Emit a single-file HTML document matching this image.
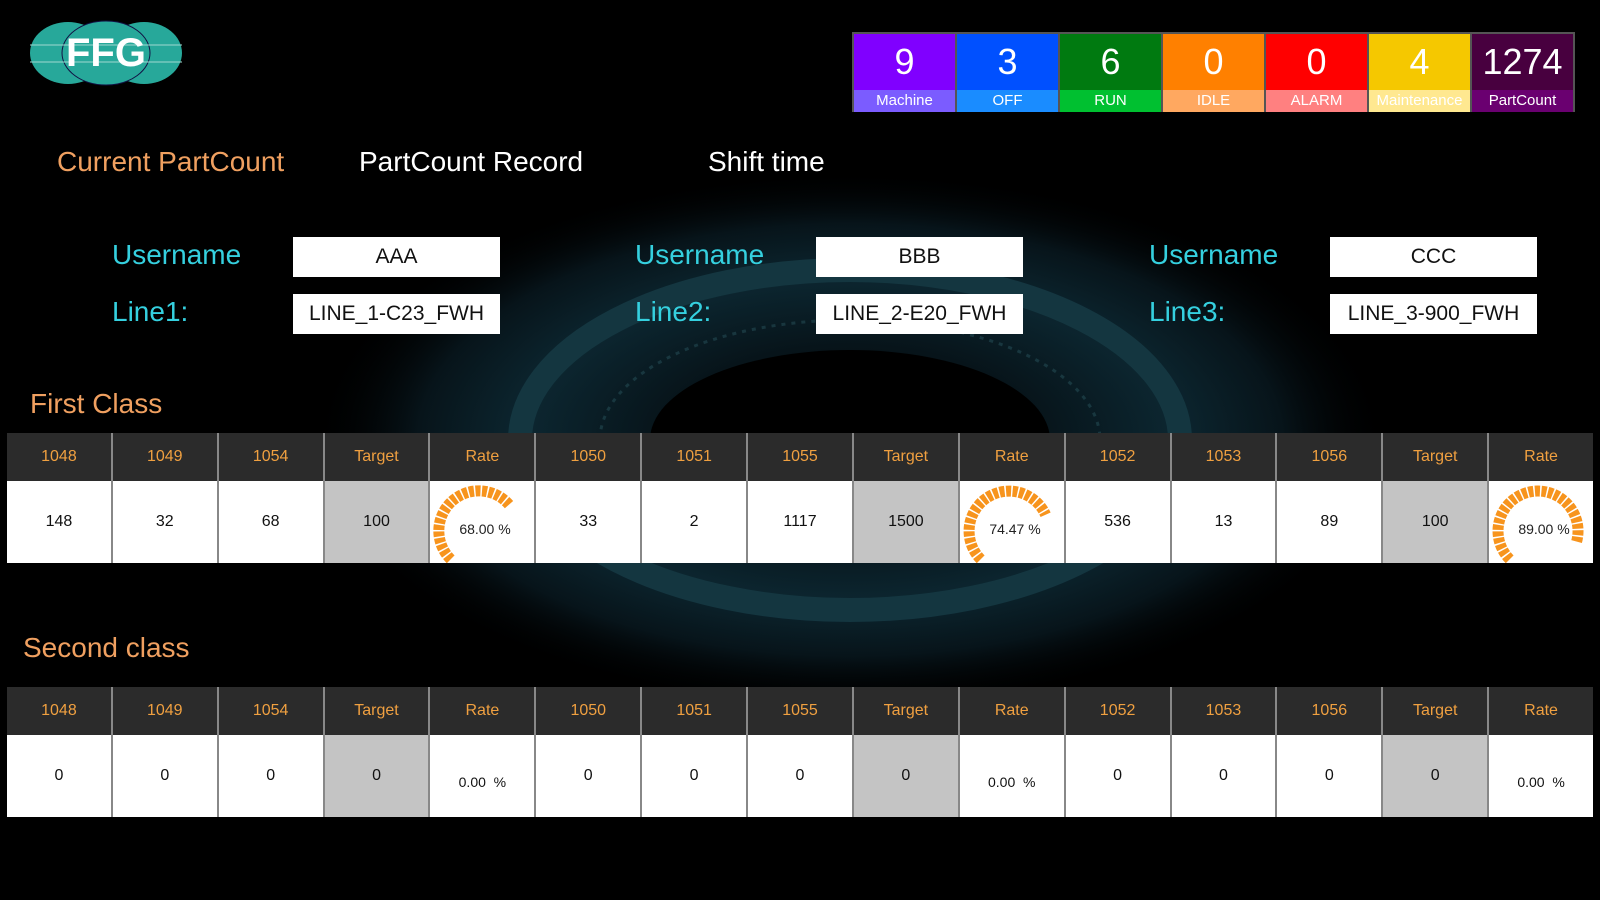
<!DOCTYPE html>
<html><head><meta charset="utf-8"><style>
*{margin:0;padding:0;box-sizing:border-box}
body{width:1600px;height:900px;background:#000;position:relative;overflow:hidden;font-family:"Liberation Sans",sans-serif}
.a{position:absolute}
.tab{font-size:28px;top:146px;white-space:nowrap}
.lbl{color:#35d0df;font-size:28px;white-space:nowrap}
.box{background:#fff;width:207px;height:40px;text-align:center;line-height:40px;font-size:21px;color:#111}
.tiles{left:852px;top:32px;width:723px;height:80px;display:flex;border:2px solid #555;background:#555;gap:2px}
.tile{flex:1;display:flex;flex-direction:column;color:#fff;text-align:center}
.tile .n{height:56px;line-height:56px;font-size:36px}
.tile .l{flex:1;line-height:22px;font-size:15px}
.sec{color:#f0a060;font-size:28px;white-space:nowrap}
.tbl{left:7px;width:1586px;display:grid;grid-template-columns:repeat(15,1fr);gap:0 2px;background:#888}
.h{background:#2b2b2b;color:#f0a040;font-size:16px;text-align:center;height:48px;line-height:48px}
.c{background:#fff;color:#111;font-size:16px;text-align:center;height:82px;line-height:82px;position:relative;overflow:hidden}
.g{background:#c4c4c4}
.r{font-size:14px;line-height:94px}
</style></head><body>
<svg class="a" style="left:0;top:150px" width="1600" height="560">
<defs><radialGradient id="bg" cx="50%" cy="50%" r="50%"><stop offset="0" stop-color="#000"/><stop offset=".35" stop-color="#07141a"/><stop offset=".6" stop-color="#0c2630"/><stop offset=".8" stop-color="#07141a"/><stop offset="1" stop-color="#000" stop-opacity="0"/></radialGradient></defs>
<ellipse cx="850" cy="290" rx="540" ry="270" fill="url(#bg)"/>
<ellipse cx="850" cy="290" rx="330" ry="170" fill="none" stroke="#143640" stroke-width="24"/>
<ellipse cx="850" cy="290" rx="250" ry="120" fill="none" stroke="#23495299" stroke-width="3" stroke-dasharray="4 6"/>
<ellipse cx="850" cy="290" rx="200" ry="90" fill="#000"/>
</svg>
<svg class="a" style="left:28px;top:20px" width="156" height="66">
<ellipse cx="40" cy="33" rx="38" ry="31" fill="#27a89a"/><ellipse cx="116" cy="33" rx="38" ry="31" fill="#27a89a"/><ellipse cx="78" cy="33" rx="44" ry="32" fill="#27a89a" stroke="#114" stroke-width="1"/>
<g stroke="#9fd8d0" stroke-width="1"><line x1="2" y1="25" x2="154" y2="25"/><line x1="2" y1="42" x2="154" y2="42"/></g>
<text x="78" y="46" text-anchor="middle" font-family="Liberation Sans" font-weight="bold" font-size="40" fill="#fff">FFG</text>
</svg>
<div class="a tiles">
<div class="tile"><div class="n" style="background:#8000ff">9</div><div class="l" style="background:#7b5cff">Machine</div></div>
<div class="tile"><div class="n" style="background:#0050ff">3</div><div class="l" style="background:#1a8cff">OFF</div></div>
<div class="tile"><div class="n" style="background:#007a10">6</div><div class="l" style="background:#00c030">RUN</div></div>
<div class="tile"><div class="n" style="background:#ff8000">0</div><div class="l" style="background:#ffa860">IDLE</div></div>
<div class="tile"><div class="n" style="background:#ff0000">0</div><div class="l" style="background:#ff8080">ALARM</div></div>
<div class="tile"><div class="n" style="background:#f5c800">4</div><div class="l" style="background:#ffe890">Maintenance</div></div>
<div class="tile"><div class="n" style="background:#48003f">1274</div><div class="l" style="background:#6a0070">PartCount</div></div>
</div>
<div class="a tab" style="left:57px;color:#f0a060">Current PartCount</div>
<div class="a tab" style="left:359px;color:#fff">PartCount Record</div>
<div class="a tab" style="left:708px;color:#fff">Shift time</div>

<div class="a lbl" style="left:112px;top:239px">Username</div><div class="a box" style="left:293px;top:237px">AAA</div>
<div class="a lbl" style="left:112px;top:296px">Line1:</div><div class="a box" style="left:293px;top:294px">LINE_1-C23_FWH</div>
<div class="a lbl" style="left:635px;top:239px">Username</div><div class="a box" style="left:816px;top:237px">BBB</div>
<div class="a lbl" style="left:635px;top:296px">Line2:</div><div class="a box" style="left:816px;top:294px">LINE_2-E20_FWH</div>
<div class="a lbl" style="left:1149px;top:239px">Username</div><div class="a box" style="left:1330px;top:237px">CCC</div>
<div class="a lbl" style="left:1149px;top:296px">Line3:</div><div class="a box" style="left:1330px;top:294px">LINE_3-900_FWH</div>

<div class="a sec" style="left:30px;top:388px">First Class</div>
<div class="a tbl" style="top:433px">
<div class="h">1048</div><div class="h">1049</div><div class="h">1054</div><div class="h">Target</div><div class="h">Rate</div>
<div class="h">1050</div><div class="h">1051</div><div class="h">1055</div><div class="h">Target</div><div class="h">Rate</div>
<div class="h">1052</div><div class="h">1053</div><div class="h">1056</div><div class="h">Target</div><div class="h">Rate</div>
<div class="c">148</div><div class="c">32</div><div class="c">68</div><div class="c g">100</div>
<div class="c"><svg class="a" style="left:0;top:0" width="106" height="82"><path d="M20.7 78.3 A40 40 0 1 1 79 23.6" fill="none" stroke="#f7941d" stroke-width="11" stroke-dasharray="5 1.5"/><text x="55" y="53" text-anchor="middle" font-size="14" fill="#222" font-family="Liberation Sans">68.00 %</text></svg></div>
<div class="c">33</div><div class="c">2</div><div class="c">1117</div><div class="c g">1500</div>
<div class="c"><svg class="a" style="left:0;top:0" width="106" height="82"><path d="M20.7 78.3 A40 40 0 1 1 85.6 33.8" fill="none" stroke="#f7941d" stroke-width="11" stroke-dasharray="5 1.5"/><text x="55" y="53" text-anchor="middle" font-size="14" fill="#222" font-family="Liberation Sans">74.47 %</text></svg></div>
<div class="c">536</div><div class="c">13</div><div class="c">89</div><div class="c g">100</div>
<div class="c"><svg class="a" style="left:0;top:0" width="106" height="82"><path d="M20.7 78.3 A40 40 0 1 1 87.6 60.6" fill="none" stroke="#f7941d" stroke-width="11" stroke-dasharray="5 1.5"/><text x="55" y="53" text-anchor="middle" font-size="14" fill="#222" font-family="Liberation Sans">89.00 %</text></svg></div>
</div>

<div class="a sec" style="left:23px;top:632px">Second class</div>
<div class="a tbl" style="top:687px">
<div class="h">1048</div><div class="h">1049</div><div class="h">1054</div><div class="h">Target</div><div class="h">Rate</div>
<div class="h">1050</div><div class="h">1051</div><div class="h">1055</div><div class="h">Target</div><div class="h">Rate</div>
<div class="h">1052</div><div class="h">1053</div><div class="h">1056</div><div class="h">Target</div><div class="h">Rate</div>
<div class="c">0</div><div class="c">0</div><div class="c">0</div><div class="c g">0</div><div class="c r">0.00 &nbsp;%</div>
<div class="c">0</div><div class="c">0</div><div class="c">0</div><div class="c g">0</div><div class="c r">0.00 &nbsp;%</div>
<div class="c">0</div><div class="c">0</div><div class="c">0</div><div class="c g">0</div><div class="c r">0.00 &nbsp;%</div>
</div>
</body></html>
